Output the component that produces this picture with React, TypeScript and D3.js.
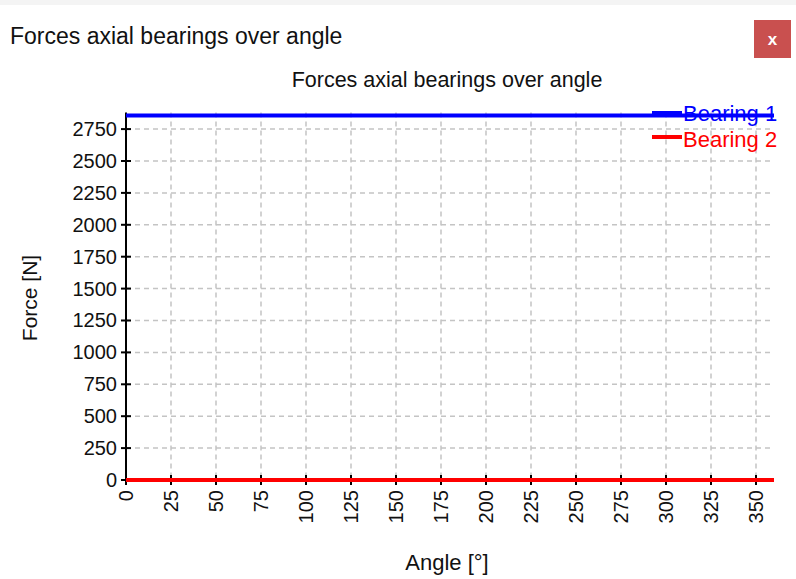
import React from "react";
import * as d3 from "d3";

const angles = [0, 45, 90, 135, 180, 225, 270, 315, 360];
const bearing1 = [2857, 2857, 2857, 2857, 2857, 2857, 2857, 2857, 2857];
const bearing2 = [0, 0, 0, 0, 0, 0, 0, 0, 0];
const xTicks = [0, 25, 50, 75, 100, 125, 150, 175, 200, 225, 250, 275, 300, 325, 350];
const yTicks = [0, 250, 500, 750, 1000, 1250, 1500, 1750, 2000, 2250, 2500, 2750];
const seriesNames = ["Bearing 1", "Bearing 2"];
const seriesColors = ["#0000ff", "#ff0000"];
const windowTitle = "Forces axial bearings over angle";
const chartTitle = "Forces axial bearings over angle";
const xLabel = "Angle [°]";
const yLabel = "Force [N]";

const W = 796, H = 579;
const L = 126, R = 774, T = 112.5, B = 480;
const FONT = "'Liberation Sans', Arial, sans-serif";

export default function App() {
  const x = d3.scaleLinear().domain([0, 360]).range([L, R]);
  const y = d3.scaleLinear().domain([0, 2880]).range([B, T]);
  const line = d3.line<[number, number]>().x(d => x(d[0])).y(d => y(d[1]));
  const series = [bearing1, bearing2].map(vals => angles.map((a, i) => [a, vals[i]] as [number, number]));
  const textColor = "#111";
  return (
    <svg width={W} height={H} style={{ position: "absolute", left: 0, top: 0, background: "#fff" }} fontFamily={FONT}>
      <rect x={0} y={0} width={W} height={H} fill="#fff" />
      <rect x={0} y={0} width={W} height={5} fill="#f4f4f4" />
      <text x={10} y={44} fontSize={23} fill={textColor}>{windowTitle}</text>
      <rect x={754} y={20} width={37} height={38} fill="#c9504f" />
      <text x={772.5} y={45} fontSize={17} fontWeight="bold" fill="#fff" textAnchor="middle">x</text>
      <text x={447} y={87} fontSize={21.5} fill={textColor} textAnchor="middle">{chartTitle}</text>
      {/* grid */}
      {xTicks.filter(t => t > 0).map(t => (
        <line key={"gx" + t} x1={x(t)} x2={x(t)} y1={T} y2={B} stroke="#c4c4c4" strokeWidth={1.5} strokeDasharray="5,4" />
      ))}
      {yTicks.filter(t => t > 0).map(t => (
        <line key={"gy" + t} x1={L} x2={R} y1={y(t)} y2={y(t)} stroke="#c4c4c4" strokeWidth={1.5} strokeDasharray="5,4" />
      ))}
      {/* axes */}
      <line x1={L} x2={L} y1={T} y2={B} stroke="#000" strokeWidth={2} />
      <line x1={L} x2={R} y1={B} y2={B} stroke="#000" strokeWidth={2} />
      {yTicks.map(t => (
        <g key={"ty" + t}>
          <line x1={L - 5} x2={L + 5} y1={y(t)} y2={y(t)} stroke="#000" strokeWidth={2} />
          <text x={L - 9} y={y(t)} dy="0.35em" fontSize={20} fill={textColor} textAnchor="end">{t}</text>
        </g>
      ))}
      {xTicks.map(t => (
        <g key={"tx" + t}>
          <line x1={x(t)} x2={x(t)} y1={B - 5} y2={B + 5} stroke="#000" strokeWidth={2} />
          <text transform={`translate(${x(t)},${B + 10}) rotate(-90)`} dy="0.35em" fontSize={20} fill={textColor} textAnchor="end">{t}</text>
        </g>
      ))}
      <text x={447} y={570} fontSize={22} fill={textColor} textAnchor="middle">{xLabel}</text>
      <text transform={`translate(37,298) rotate(-90)`} fontSize={21} fill={textColor} textAnchor="middle">{yLabel}</text>
      {/* legend */}
      {seriesNames.map((n, i) => (
        <g key={n}>
          <line x1={652} x2={682} y1={i === 0 ? 113 : 137} y2={i === 0 ? 113 : 137} stroke={seriesColors[i]} strokeWidth={4} />
          <text x={683} y={i === 0 ? 121 : 147} fontSize={22} fill={seriesColors[i]}>{n}</text>
        </g>
      ))}
      {/* data */}
      {series.map((s, i) => (
        <path key={"s" + i} d={line(s) || ""} fill="none" stroke={seriesColors[i]} strokeWidth={4} />
      ))}
    </svg>
  );
}
